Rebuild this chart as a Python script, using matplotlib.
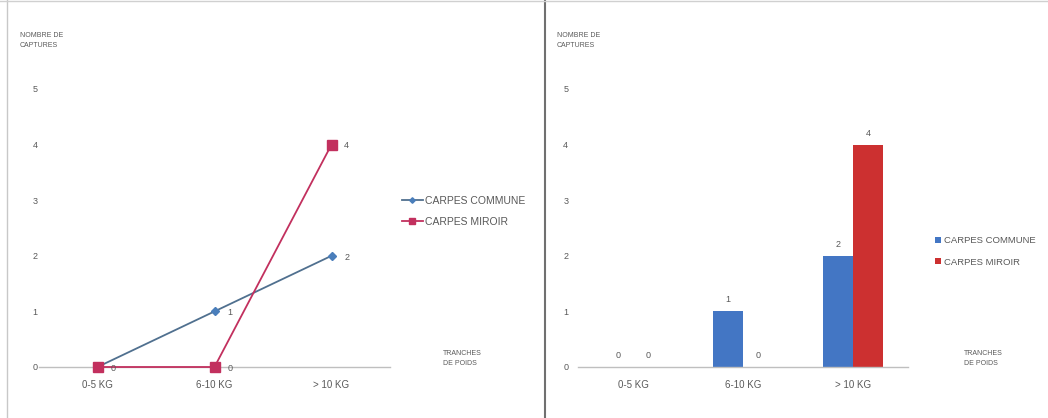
import matplotlib.pyplot as plt
from matplotlib.lines import Line2D
import numpy as np

plt.rcParams['font.family'] = ['Liberation Sans', 'DejaVu Sans']

categories = ['0-5 KG', '6-10 KG', '> 10 KG']
series_names = ['CARPES COMMUNE', 'CARPES MIROIR']
commune = [0, 1, 2]
miroir = [0, 0, 4]
y_ticks = [0, 1, 2, 3, 4, 5]

W, H = 1048, 418
TXT = '#595959'
AXIS = '#bfbfbf'


def px_axes(fig, x0, x1, y_top, y_bottom):
    # axes from pixel box (origin top-left)
    return fig.add_axes([x0 / W, (H - y_bottom) / H, (x1 - x0) / W, (y_bottom - y_top) / H])


def style(ax, pad):
    for s in ['top', 'right', 'left']:
        ax.spines[s].set_visible(False)
    ax.spines['bottom'].set_color(AXIS)
    ax.spines['bottom'].set_linewidth(1.0)
    ax.set_ylim(0, 5)
    ax.set_xlim(-0.5, 2.5)
    ax.set_yticks(y_ticks)
    ax.set_xticks(range(len(categories)))
    ax.set_xticklabels(categories)
    ax.tick_params(axis='y', length=0, pad=pad, labelsize=6.5, labelcolor=TXT)
    ax.tick_params(axis='x', length=0, pad=9, labelsize=7, labelcolor=TXT)
    ax.set_facecolor('none')


fig = plt.figure(figsize=(W / 100, H / 100), dpi=100)

# --- left: line chart ---
ax1 = px_axes(fig, 39, 390, 89, 367)
style(ax1, 1)
x = np.arange(len(categories))
c_line, c_mir = '#50708f', '#c2305e'
ax1.plot(x, commune, color=c_line, lw=1.3, marker='D', ms=4,
         mfc='#4a7ebb', mec='#4a7ebb', label=series_names[0], zorder=2, clip_on=False)
ax1.plot(x, miroir, color=c_mir, lw=1.3, marker='s', ms=6.5,
         mfc=c_mir, mec=c_mir, label=series_names[1], zorder=3, clip_on=False)
for xi, v in zip(x, commune):
    ax1.annotate(str(v), (xi, v), xytext=(11, -1), textcoords='offset points',
                 fontsize=6.5, color=TXT, va='center', ha='center')
for xi, v in zip(x[1:], miroir[1:]):
    ax1.annotate(str(v), (xi, v), xytext=(11, -1), textcoords='offset points',
                 fontsize=6.5, color=TXT, va='center', ha='center')
ax1.legend(loc='upper left', bbox_to_anchor=(402 / W, (H - 196) / H),
           bbox_transform=fig.transFigure, frameon=False, fontsize=7.5,
           labelcolor=TXT, handlelength=2.0, handletextpad=0.2, markerscale=0.7,
           labelspacing=1.05, borderaxespad=0, borderpad=0)
fig.text(20 / W, (H - 32) / H, 'NOMBRE DE\nCAPTURES', fontsize=5, color=TXT,
         va='top', ha='left', linespacing=1.6)
fig.text(443 / W, (H - 350) / H, 'TRANCHES\nDE POIDS', fontsize=5, color=TXT,
         va='top', ha='left', linespacing=1.6)

# --- right: bar chart ---
ax2 = px_axes(fig, 578, 908, 89, 367)
style(ax2, 7)
bw = 0.272
blue, red = '#4376c4', '#cc3030'
b1 = ax2.bar(x - bw / 2, commune, bw, color=blue, label=series_names[0])
b2 = ax2.bar(x + bw / 2, miroir, bw, color=red, label=series_names[1])
for bars in (b1, b2):
    for r in bars:
        ax2.annotate(str(int(r.get_height())), (r.get_x() + r.get_width() / 2, r.get_height()),
                     xytext=(0, 5), textcoords='offset points', fontsize=6.5,
                     color=TXT, ha='center', va='bottom')
ax2.legend(loc='upper left', bbox_to_anchor=(935 / W, (H - 236) / H),
           bbox_transform=fig.transFigure, frameon=False, fontsize=6.8,
           labelcolor=TXT, handlelength=0.6, handleheight=0.6, handletextpad=0.3,
           labelspacing=1.35, borderaxespad=0, borderpad=0)
fig.text(557 / W, (H - 32) / H, 'NOMBRE DE\nCAPTURES', fontsize=5, color=TXT,
         va='top', ha='left', linespacing=1.6)
fig.text(964 / W, (H - 350) / H, 'TRANCHES\nDE POIDS', fontsize=5, color=TXT,
         va='top', ha='left', linespacing=1.6)

# panel borders
fig.add_artist(Line2D([7 / W, 7 / W], [0, 1], color='#c8c8c8', lw=1))
fig.add_artist(Line2D([545 / W, 545 / W], [0, 1], color='#707070', lw=1.5))
fig.add_artist(Line2D([0, 1], [1 - 1 / H, 1 - 1 / H], color='#d0d0d0', lw=1))

fig.savefig('out.png', dpi=100)
